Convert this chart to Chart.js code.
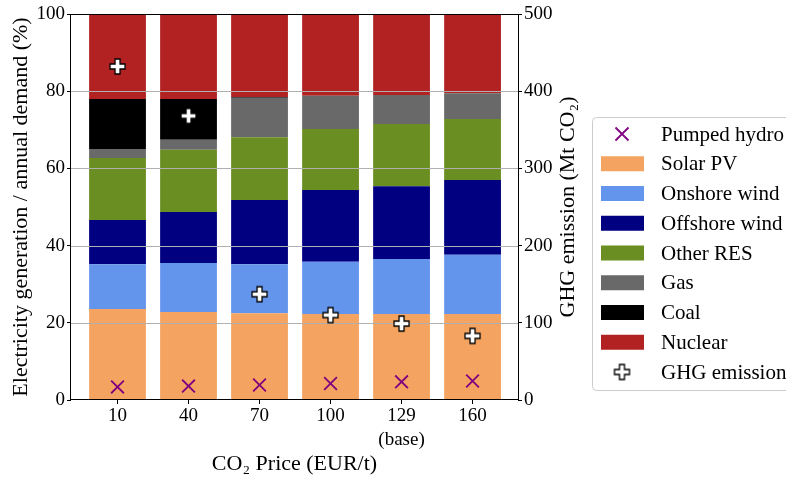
<!DOCTYPE html>
<html>
<head>
<meta charset="utf-8">
<script src="https://cdn.jsdelivr.net/npm/chart.js@4/dist/chart.umd.min.js"></script>
<style>
  html, body { margin: 0; padding: 0; background: #fff; overflow: hidden; }
  #wrap { width: 786px; height: 478px; position: relative; }
</style>
</head>
<body>
<div id="wrap"><canvas id="c" width="786" height="478"></canvas></div>
<script>
// CO2 price scenarios (EUR/t)
const categories = ['10', '40', '70', '100', '129', '160'];
const categoryNotes = ['', '', '', '', '(base)', ''];

// Electricity generation as share of annual demand (%)
const solarPV      = [23.6, 22.8, 22.5, 22.3, 22.3, 22.3];
const onshoreWind  = [11.6, 12.7, 12.7, 13.5, 14.2, 15.3];
const offshoreWind = [11.4, 13.2, 16.6, 18.6, 18.9, 19.4];
const otherRES     = [16.1, 16.1, 16.3, 15.8, 16.1, 15.8];
const gas          = [2.3, 2.6, 10.2, 8.6, 7.5, 6.7];
const coal         = [13.0, 10.6, 0.2, 0, 0, 0];
const nuclear      = [22.0, 22.0, 21.5, 21.2, 21.0, 20.5];
const pumpedHydro  = [3.4, 3.6, 3.9, 4.3, 4.7, 4.9];

// Greenhouse gas emissions (Mt CO2)
const ghgEmission  = [432, 368, 137, 110, 99, 83];

// Axis ticks
const shareTicks    = [0, 20, 40, 60, 80, 100];
const emissionTicks = [0, 100, 200, 300, 400, 500];

const SERIF = '"Liberation Serif", "Times New Roman", serif';
Chart.defaults.font.family = SERIF;
Chart.defaults.color = '#000';

const toPoints = arr => arr.map((v, i) => ({ x: i, y: v }));

// White plus marker with a dark outline
function makePlus(size, half, thick) {
  const cv = document.createElement('canvas');
  cv.width = size; cv.height = size;
  const g = cv.getContext('2d');
  const c = size / 2;
  g.translate(c, c);
  g.beginPath();
  g.moveTo(-thick, -half); g.lineTo(thick, -half); g.lineTo(thick, -thick);
  g.lineTo(half, -thick); g.lineTo(half, thick); g.lineTo(thick, thick);
  g.lineTo(thick, half); g.lineTo(-thick, half); g.lineTo(-thick, thick);
  g.lineTo(-half, thick); g.lineTo(-half, -thick); g.lineTo(-thick, -thick);
  g.closePath();
  g.fillStyle = '#ffffff';
  g.fill();
  g.lineWidth = 1.3;
  g.strokeStyle = '#000000';
  g.stroke();
  return cv;
}
const plusMarker = makePlus(19, 7.5, 2.5);

function barSet(label, data, color) {
  return { type: 'bar', label, data: toPoints(data), backgroundColor: color,
           borderWidth: 0, yAxisID: 'y', stack: 'mix', order: 1,
           categoryPercentage: 0.8, barPercentage: 1.0 };
}

const datasets = [
  { type: 'scatter', label: 'Pumped hydro', data: toPoints(pumpedHydro), yAxisID: 'y',
    stack: 'hydro', pointStyle: 'crossRot', pointRadius: 9, pointHoverRadius: 9,
    borderColor: '#800080', backgroundColor: '#800080', borderWidth: 1.8, order: 0,
    legendMarker: 'x' },
  barSet('Solar PV', solarPV, '#F4A460'),
  barSet('Onshore wind', onshoreWind, '#6495ED'),
  barSet('Offshore wind', offshoreWind, '#000080'),
  barSet('Other RES', otherRES, '#6B8E23'),
  barSet('Gas', gas, '#696969'),
  barSet('Coal', coal, '#000000'),
  barSet('Nuclear', nuclear, '#B22222'),
  { type: 'scatter', label: 'GHG emission', data: toPoints(ghgEmission), yAxisID: 'y2',
    pointStyle: plusMarker, pointRadius: 9, pointHoverRadius: 9, order: 0,
    legendMarker: 'plus' }
];

// Horizontal grid lines drawn over the bars but beneath the markers
const overGrid = {
  id: 'overGrid',
  beforeDraw(chart) { chart.$gridDone = false; },
  beforeDatasetDraw(chart, args) {
    if (chart.$gridDone || args.meta.type !== 'scatter') return;
    chart.$gridDone = true;
    const { ctx, chartArea: a, scales: { y } } = chart;
    ctx.save();
    ctx.strokeStyle = '#b0b0b0';
    ctx.lineWidth = 1;
    shareTicks.forEach(v => {
      if (v === y.min || v === y.max) return;
      const py = Math.round(y.getPixelForValue(v)) + 0.5;
      ctx.beginPath(); ctx.moveTo(a.left, py); ctx.lineTo(a.right, py); ctx.stroke();
    });
    ctx.restore();
  }
};

// Frame, right-hand axis title and legend
const decorations = {
  id: 'decorations',
  afterDraw(chart, args, opts) {
    const { ctx, chartArea: a } = chart;
    ctx.save();
    ctx.strokeStyle = '#000';
    ctx.lineWidth = 1;
    ctx.strokeRect(Math.round(a.left) - 0.5, Math.round(a.top) + 0.5,
                   Math.round(a.right - a.left) + 1, Math.round(a.bottom - a.top) - 1);

    // right axis title, reading bottom to top
    ctx.translate(opts.rightTitleX, (a.top + a.bottom) / 2);
    ctx.rotate(-Math.PI / 2);
    ctx.font = '22px ' + SERIF;
    ctx.textAlign = 'center';
    ctx.textBaseline = 'middle';
    ctx.fillStyle = '#000';
    ctx.fillText('GHG emission (Mt CO\u2082)', 0, 0);
    ctx.restore();

    // legend
    const L = opts.legend;
    ctx.save();
    ctx.beginPath();
    ctx.roundRect(L.x + 0.5, L.y + 0.5, L.w, L.h, 4);
    ctx.fillStyle = 'rgba(255,255,255,0.8)';
    ctx.fill();
    ctx.strokeStyle = '#cccccc';
    ctx.lineWidth = 1;
    ctx.stroke();
    ctx.font = '21px ' + SERIF;
    ctx.textBaseline = 'middle';
    ctx.textAlign = 'left';
    chart.data.datasets.forEach((ds, i) => {
      const cy = L.firstRow + i * L.rowStep;
      const mx = L.x + L.markerX;
      if (ds.legendMarker === 'x') {
        const h = 6.5;
        ctx.strokeStyle = ds.borderColor;
        ctx.lineWidth = ds.borderWidth;
        ctx.beginPath();
        ctx.moveTo(mx - h, cy - h); ctx.lineTo(mx + h, cy + h);
        ctx.moveTo(mx - h, cy + h); ctx.lineTo(mx + h, cy - h);
        ctx.stroke();
      } else if (ds.legendMarker === 'plus') {
        ctx.drawImage(plusMarker, mx - plusMarker.width / 2, cy - plusMarker.height / 2);
      } else {
        ctx.fillStyle = ds.backgroundColor;
        ctx.fillRect(L.x + L.patchX, cy - L.patchH / 2, L.patchW, L.patchH);
      }
      ctx.fillStyle = '#000';
      ctx.fillText(ds.label, L.x + L.textX, cy + 1);
    });
    ctx.restore();
  }
};

new Chart(document.getElementById('c'), {
  type: 'bar',
  data: { datasets },
  plugins: [overGrid, decorations],
  options: {
    responsive: false,
    animation: false,
    events: [],
    layout: { padding: { left: 0, top: 14, right: 198, bottom: 0 } },
    plugins: {
      legend: { display: false },
      tooltip: { enabled: false },
      decorations: {
        rightTitleX: 568,
        legend: { x: 592, y: 117, w: 220, h: 273, firstRow: 134, rowStep: 29.75,
                  markerX: 30, patchX: 9, patchW: 43, patchH: 15, textX: 69 }
      }
    },
    scales: {
      x: {
        type: 'linear', min: -0.655, max: 5.64, stacked: true, offset: false,
        afterBuildTicks: s => { s.ticks = categories.map((_, i) => ({ value: i })); },
        afterFit: s => { s.height = 78; },
        ticks: {
          autoSkip: false, maxRotation: 0, padding: 0,
          font: { size: 19, family: SERIF, lineHeight: 1.25 },
          callback: v => categoryNotes[v] ? [categories[v], categoryNotes[v]] : categories[v]
        },
        grid: { display: true, drawOnChartArea: false, drawTicks: true, tickLength: 4,
                tickColor: '#000', offset: false },
        border: { display: false },
        title: { display: true, text: 'CO\u2082 Price (EUR/t)', padding: { top: 0, bottom: 1 },
                 font: { size: 22, family: SERIF } }
      },
      y: {
        type: 'linear', position: 'left', min: 0, max: 100, stacked: true,
        afterBuildTicks: s => { s.ticks = shareTicks.map(v => ({ value: v })); },
        afterFit: s => { s.width = 71; },
        ticks: { padding: 2, font: { size: 19, family: SERIF } },
        grid: { display: true, drawOnChartArea: false, drawTicks: true, tickLength: 4,
                tickColor: '#000' },
        border: { display: false },
        title: { display: true, text: 'Electricity generation / annual demand (%)',
                 padding: { top: 8, bottom: 0 }, font: { size: 22, family: SERIF } }
      },
      y2: {
        type: 'linear', position: 'right', min: 0, max: 500,
        afterBuildTicks: s => { s.ticks = emissionTicks.map(v => ({ value: v })); },
        afterFit: s => { s.width = 70; },
        ticks: { padding: 2, font: { size: 19, family: SERIF } },
        grid: { display: true, drawOnChartArea: false, drawTicks: true, tickLength: 4,
                tickColor: '#000' },
        border: { display: false }
      }
    }
  }
});
</script>
</body>
</html>
